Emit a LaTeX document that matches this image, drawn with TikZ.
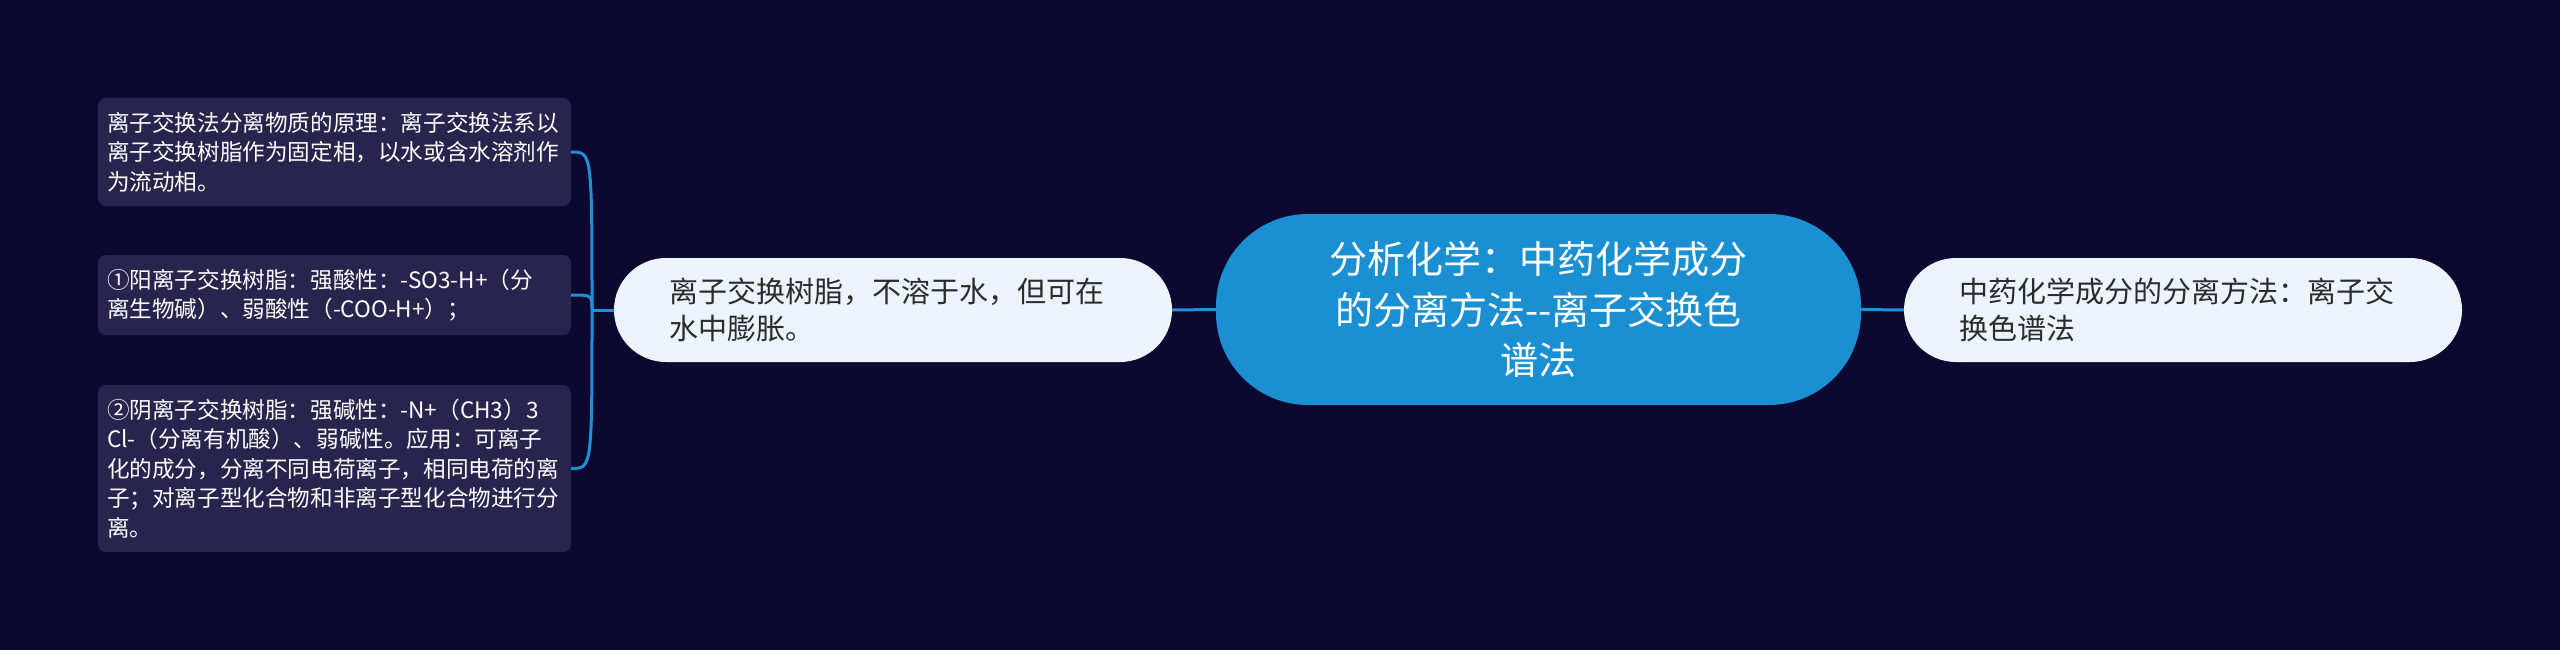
\documentclass[tikz,border=0pt]{standalone}
\usepackage{fontspec}
\setmainfont{Noto Sans CJK SC}
\definecolor{bg}{HTML}{0C0830}
\definecolor{lbox}{HTML}{28244E}
\definecolor{cfill}{HTML}{1A90D3}
\definecolor{conncol}{HTML}{1E90D8}
\definecolor{lightfill}{HTML}{EDF3FD}
\definecolor{darktext}{HTML}{2B2B2B}
\begin{document}
\begin{tikzpicture}[x=1pt,y=-1pt,
  leftbox/.style={draw=none, fill=lbox, rounded corners=8pt, minimum width=473pt,
    text width=455pt, inner xsep=9pt, inner ysep=0pt, align=left, text=white,
    font=\fontsize{22.6}{29.5}\selectfont},
  pillnode/.style={draw=none, fill=lightfill, rounded corners=52pt, minimum width=558pt,
    minimum height=104pt, text width=448pt, inner xsep=55pt, inner ysep=0pt, align=left,
    text=darktext, font=\fontsize{29}{37.5}\selectfont},
  centernode/.style={draw=none, fill=cfill, rounded corners=92pt, minimum width=645pt,
    minimum height=191pt, text width=560pt, inner xsep=42pt, inner ysep=0pt, align=center,
    text=white, font=\fontsize{38}{50.5}\selectfont},
  conn/.style={draw=conncol, line width=3pt}
]
\fill[bg] (0,0) rectangle (2560,650);
\useasboundingbox (0,0) rectangle (2560,650);

\node[centernode] (c) at (1538.5,309.5) {分析化学：中药化学成分\\的分离方法-{}-离子交换色\\谱法};
\node[pillnode] (m) at (893,310) {离子交换树脂，不溶于水，但可在\\水中膨胀。};
\node[pillnode] (r) at (2183,310) {中药化学成分的分离方法：离子交\\换色谱法};

\node[leftbox, minimum height=108pt] (b1) at (334.5,152) {离子交换法分离物质的原理：离子交换法系以\\离子交换树脂作为固定相，以水或含水溶剂作\\为流动相。};
\node[leftbox, minimum height=80pt] (b2) at (334.5,295) {①阳离子交换树脂：强酸性：-SO3-H+（分\\离生物碱）、弱酸性（-COO-H+）；};
\node[leftbox, minimum height=167pt] (b3) at (334.5,468.5) {②阴离子交换树脂：强碱性：-N+（CH3）3\\Cl-（分离有机酸）、弱碱性。应用：可离子\\化的成分，分离不同电荷离子，相同电荷的离\\子；对离子型化合物和非离子型化合物进行分\\离。};

\draw[conn] (c.west) -- (m.east);
\draw[conn] (c.east) -- (r.west);
\coordinate (j) at (592,310);
\draw[conn] (m.west) -- (j);
\draw[conn] (j) .. controls (j |- b1.east) and (j |- b1.east) .. (b1.east);
\draw[conn] (j) .. controls (j |- b2.east) and (j |- b2.east) .. (b2.east);
\draw[conn] (j) .. controls (j |- b3.east) and (j |- b3.east) .. (b3.east);
\end{tikzpicture}
\end{document}
